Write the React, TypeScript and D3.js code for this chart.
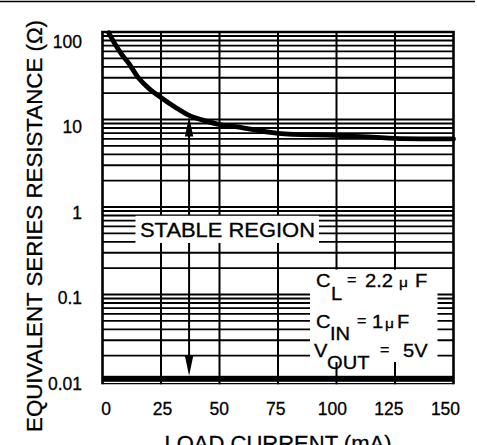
import React from "react";
import * as d3 from "d3";

// ---- data ----
const curveCurrent = [2.7, 5.6, 8.4, 11.2, 15.5, 19.8, 25.4, 31.1, 36.8, 42.5, 51, 56.7, 75, 100, 125, 150];
const curveESR = [98, 71, 54.6, 43.9, 29.6, 22.7, 17.5, 13.8, 11.2, 9.9, 8.65, 8.3, 6.95, 6.6, 6.1, 6.0];
const xTicks = [0, 25, 50, 75, 100, 125, 150];
const xTickLabels = ["0", "25", "50", "75", "100", "125", "150"];
const yTicks = [0.01, 0.1, 1, 10, 100];
const yTickLabels = ["0.01", "0.1", "1", "10", "100"];
const arrowCurrent = 37;
const arrowTopESR = 10.8;
const arrowBottomESR = 0.0118;
const xTitle = "LOAD CURRENT (mA)";
const yTitle = "EQUIVALENT SERIES RESISTANCE (\u03A9)";
const stableLabel = "STABLE REGION";

const FONT = "'Liberation Sans', Arial, Helvetica, sans-serif";

export default function App() {
  const W = 477, H = 445;
  const x = d3.scaleLinear().domain([0, 150]).range([102.5, 453.5]);
  const y = d3.scaleLog().domain([0.01, 100]).range([382, 32]);
  const xLab = d3.scaleLinear().domain([0, 150]).range([106, 445.5]);
  const yLab = d3.scaleLog().domain([0.01, 100]).range([389.6, 47.9]);

  // minor log gridlines
  const hLines: number[] = [];
  for (let e = -2; e <= 1; e++) {
    for (let m = 1; m <= 9; m++) {
      const v = m * Math.pow(10, e);
      if (v > 0.01) hLines.push(v);
    }
  }
  hLines.push(100);

  const pts = curveCurrent.map((c, i) => [x(c), y(curveESR[i])] as [number, number]);
  const line = d3.line().curve(d3.curveCatmullRom.alpha(0.5))(pts) || "";

  const ax = x(arrowCurrent);
  const aTop = y(arrowTopESR);
  const aBot = y(arrowBottomESR);
  const headL = 20, headW = 4.2;

  const ts = { stroke: "#000", strokeWidth: 0.3 } as const;
  const legendStyle = { fontFamily: FONT, fontSize: 17.5, fill: "#000", stroke: "#000", strokeWidth: 0.3 } as const;

  return (
    <svg width={W} height={H} style={{ position: "absolute", left: 0, top: 0, background: "#fff" }}>
      <rect x={0} y={0} width={W} height={H} fill="#fff" />
      <line x1={0} x2={475} y1={1.5} y2={1.5} stroke="#000" strokeWidth={1.6} />

      {/* horizontal gridlines */}
      {hLines.map((v, i) => (
        <line key={"h" + i} x1={x(0)} x2={x(150)} y1={y(v)} y2={y(v)} stroke="#000" strokeWidth={1.8} />
      ))}
      {/* vertical gridlines */}
      {xTicks.map((t, i) => (
        <line key={"v" + i} x1={x(t)} x2={x(t)} y1={y(100) - 1} y2={384.2} stroke="#000"
          strokeWidth={t === 0 || t === 150 ? 2.6 : 2} />
      ))}
      {/* heavy bottom band */}
      <rect x={x(0)} y={375.8} width={x(150) - x(0)} height={6} fill="#000" />
      <line x1={x(0)} x2={x(150)} y1={383.6} y2={383.6} stroke="#000" strokeWidth={1.3} />
      <line x1={x(0) - 1} x2={x(150) + 1} y1={y(100)} y2={y(100)} stroke="#000" strokeWidth={2.4} />

      {/* arrow */}
      <line x1={ax} x2={ax} y1={aTop + headL - 2} y2={aBot - headL + 2} stroke="#000" strokeWidth={2} />
      <path d={`M${ax},${aTop} L${ax - headW},${aTop + headL} L${ax + headW},${aTop + headL} Z`} fill="#000" />
      <path d={`M${ax},${aBot} L${ax - headW},${aBot - headL} L${ax + headW},${aBot - headL} Z`} fill="#000" />

      {/* curve */}
      <path d={line} fill="none" stroke="#000" strokeWidth={4.8} strokeLinecap="round" />

      {/* stable region label */}
      <rect x={135.5} y={215.8} width={183.5} height={27.2} fill="#fff" />
      <text x={140} y={237.3} fontFamily={FONT} fontSize={19.5} textLength={175} lengthAdjust="spacingAndGlyphs" {...ts}>
        {stableLabel}
      </text>

      {/* legend box */}
      <rect x={310} y={269.6} width={127.5} height={92.4} fill="#fff" />
      <g style={legendStyle}>
        <text transform="translate(316,287) scale(1.15,1)">C</text>
        <text transform="translate(331,299.5) scale(1.15,1)">L</text>
        <text transform="translate(347,285) scale(1.15,1)" fontSize={14}>=</text>
        <text transform="translate(365,287) scale(1.15,1)">2.2</text>
        <text transform="translate(399,287) scale(1.15,1)" fontSize={13.5}>{"\u03BC"}</text>
        <text transform="translate(415,287) scale(1.15,1)">F</text>

        <text transform="translate(316,327.5) scale(1.15,1)">C</text>
        <text transform="translate(330,340) scale(1.15,1)">IN</text>
        <text transform="translate(357,325.5) scale(1.15,1)" fontSize={14}>=</text>
        <text transform="translate(372,327.5) scale(1.15,1)">1</text>
        <text transform="translate(385,327.5) scale(1.15,1)" fontSize={13.5}>{"\u03BC"}</text>
        <text transform="translate(397,327.5) scale(1.15,1)">F</text>

        <text transform="translate(314,357) scale(1.15,1)">V</text>
        <text transform="translate(327,368.5) scale(1.15,1)">OUT</text>
        <text transform="translate(380,355) scale(1.15,1)" fontSize={14}>=</text>
        <text transform="translate(403,357) scale(1.15,1)">5V</text>
      </g>

      {/* tick labels */}
      {xTicks.map((t, i) => (
        <text key={"xl" + i} x={xLab(t)} y={415} textAnchor="middle" fontFamily={FONT} fontSize={17.5} {...ts}>
          {xTickLabels[i]}
        </text>
      ))}
      {yTicks.map((t, i) => (
        <text key={"yl" + i} x={82} y={yLab(t)} textAnchor="end" fontFamily={FONT} fontSize={17.5} {...ts}>
          {yTickLabels[i]}
        </text>
      ))}

      {/* axis titles */}
      <text x={278} y={451} textAnchor="middle" fontFamily={FONT} fontSize={22} {...ts}>{xTitle}</text>
      <text transform="translate(42,226) rotate(-90)" textAnchor="middle" fontFamily={FONT} fontSize={22}
        textLength={412} lengthAdjust="spacingAndGlyphs" {...ts}>{yTitle}</text>
    </svg>
  );
}
